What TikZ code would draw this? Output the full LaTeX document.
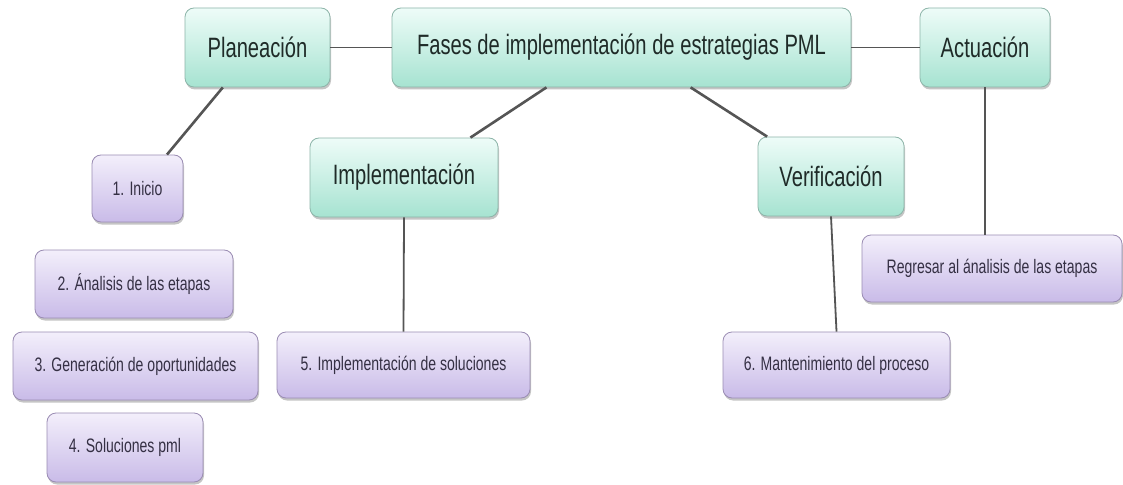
\documentclass[tikz,border=0pt]{standalone}
\usepackage{fontspec}
\usepackage{xcolor}
\usepackage{tikz}
\usetikzlibrary{shadows}

\newfontfamily\boxfont[FakeStretch=0.72]{Liberation Sans}

\definecolor{phasetop}{HTML}{EEFCF8}
\definecolor{phasebot}{HTML}{A6E3D1}
\definecolor{phaseline}{HTML}{8DB5A9}
\definecolor{phasetext}{HTML}{1F2B28}
\definecolor{tasktop}{HTML}{F3EFFB}
\definecolor{taskbot}{HTML}{C9BBE8}
\definecolor{taskline}{HTML}{9A8CB3}
\definecolor{tasktext}{HTML}{353044}
\definecolor{linkgray}{HTML}{555555}

\begin{document}
\begin{tikzpicture}[x=1pt, y=-1pt,
  phase/.style={draw=phaseline, line width=0.8pt, rounded corners=9pt,
    top color=phasetop, bottom color=phasebot,
    drop shadow={shadow xshift=1pt, shadow yshift=-2.5pt, opacity=0.45},
    font=\boxfont\fontsize{28}{32}\selectfont, text=phasetext,
    minimum height=79pt, inner sep=0pt},
  task/.style={draw=taskline, line width=0.8pt, rounded corners=9pt,
    top color=tasktop, bottom color=taskbot,
    drop shadow={shadow xshift=1pt, shadow yshift=-2.5pt, opacity=0.45},
    font=\boxfont\fontsize{19.5}{23}\selectfont, text=tasktext,
    minimum height=67pt, inner sep=0pt},
  link/.style={draw=linkgray, line width=2.6pt},
  stem/.style={draw=linkgray, line width=1.8pt}]

% Page
\fill[white] (0,0) rectangle (1123,484);
\useasboundingbox (0,0) rectangle (1123,484);

% Phases
\node[phase, minimum width=459pt] (fases) at (621.5,47.5) {Fases de implementación de estrategias PML};
\node[phase, minimum width=145pt] (plan) at (257.5,47.5) {Planeación};
\node[phase, minimum width=130pt] (actua) at (985,47.5) {Actuación};
\node[phase, minimum width=188pt] (impl) at (404,177.5) {Implementación};
\node[phase, minimum width=146pt] (verif) at (831,176.5) {Verificación};

% Steps
\node[task, minimum width=91pt] (inicio) at (137.5,188.5) {1. Inicio};
\node[task, minimum width=198pt, minimum height=68pt] (analisis) at (134,284) {2. Ánalisis de las etapas};
\node[task, minimum width=245pt, minimum height=68pt] (genera) at (135.5,366) {3. Generación de oportunidades};
\node[task, minimum width=156pt, minimum height=69pt] (solpml) at (125,447.5) {4. Soluciones pml};
\node[task, minimum width=253pt, minimum height=66pt] (solimp) at (403.5,365) {5. Implementación de soluciones};
\node[task, minimum width=227pt, minimum height=66pt] (mante) at (836.5,365) {6. Mantenimiento del proceso};
\node[task, minimum width=260pt] (regresa) at (992,268.5) {Regresar al ánalisis de las etapas};

% Links between phases
\draw[stem] (plan.east) -- (fases.west);
\draw[stem] (fases.east) -- (actua.west);
\draw[link] (fases.-152) -- (impl.31);
\draw[link] (fases.-30) -- (verif.148);
\draw[link] (plan.-131) -- (inicio.49);

% Links down to the steps
\draw[stem] (impl.south) -- (solimp.north);
\draw[stem] (verif.south) -- (mante.north);
\draw[stem] (actua.south) -- (actua.south |- regresa.north);

\end{tikzpicture}
\end{document}
